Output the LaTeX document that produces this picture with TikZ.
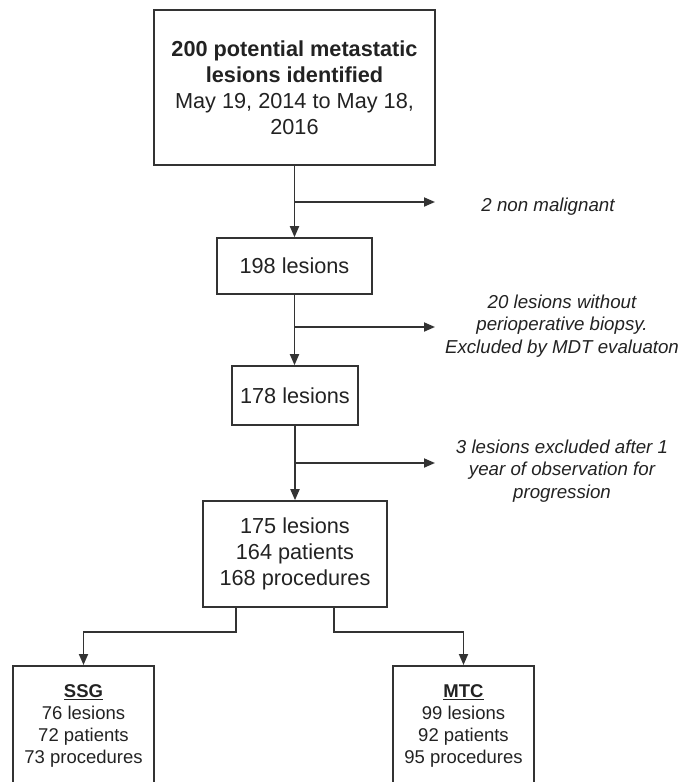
\documentclass[tikz,border=0pt]{standalone}
\usepackage{fontspec}
\setmainfont{Liberation Sans}
\usetikzlibrary{arrows.meta}
\definecolor{ink}{HTML}{222222}
\definecolor{edge}{HTML}{333333}
\tikzset{
  box/.style={draw=edge, line width=1.6pt, rectangle, inner sep=0pt, align=center, text=ink,
              font=\fontsize{21.7}{26}\selectfont},
  sidetext/.style={align=center, text=ink, font=\fontsize{18.7}{22.5}\selectfont\itshape},
  armbox/.style={draw=edge, line width=1.6pt, rectangle, inner sep=0pt, align=center, text=ink,
              font=\fontsize{18.5}{22}\selectfont, minimum width=141pt, minimum height=120pt},
  arr/.style={draw=edge, line width=1.8pt, -{Triangle[length=11pt,width=9pt]}},
}
\begin{document}
\begin{tikzpicture}[x=1pt,y=-1pt]
\useasboundingbox (0,0) rectangle (691,782);
\clip (0,0) rectangle (691,782);
\node[box, minimum width=281pt, minimum height=155pt] (top) at (294.5,87.5)
  {\textbf{200 potential metastatic}\\\textbf{lesions identified}\\May 19, 2014 to May 18,\\2016};
\node[box, minimum width=155pt, minimum height=56pt] (n198) at (294.5,266) {198 lesions};
\node[box, minimum width=126pt, minimum height=59pt] (n178) at (295,395.5) {178 lesions};
\node[box, minimum width=184pt, minimum height=106pt] (n175) at (295,554)
  {175 lesions\\164 patients\\168 procedures};
\node[armbox, anchor=north] (ssg) at (83.5,665)
  {\underline{\textbf{SSG}}\\76 lesions\\72 patients\\73 procedures};
\node[armbox, anchor=north] (mtc) at (463.5,665)
  {\underline{\textbf{MTC}}\\99 lesions\\92 patients\\95 procedures};

\node[sidetext] (x1) at (548,207) {2 non malignant};
\node[sidetext] (x2) at (562,326) {20 lesions without\\perioperative biopsy.\\Excluded by MDT evaluaton};
\node[sidetext] (x3) at (562,471) {3 lesions excluded after 1\\year of observation for\\progression};

\coordinate (b1) at (294.5,202);
\coordinate (e1) at (435,202);
\coordinate (b2) at (294.5,327);
\coordinate (e2) at (435,327);
\coordinate (b3) at (294.5,463);
\coordinate (e3) at (435,463);

\draw[arr] (top.south) -- (n198.north);
\draw[arr] (b1) -- (e1);
\draw[arr] (n198.south) -- (n178.north -| n198.south);
\draw[arr] (b2) -- (e2);
\draw[arr] (n178.south) -- (n175.north -| n178.south);
\draw[arr] (b3) -- (e3);

\draw[arr] ([xshift=34pt]n175.south west) -- ++(0,24) -| (ssg.north);
\draw[arr] ([xshift=-54pt]n175.south east) -- ++(0,24) -| (mtc.north);
\end{tikzpicture}
\end{document}
